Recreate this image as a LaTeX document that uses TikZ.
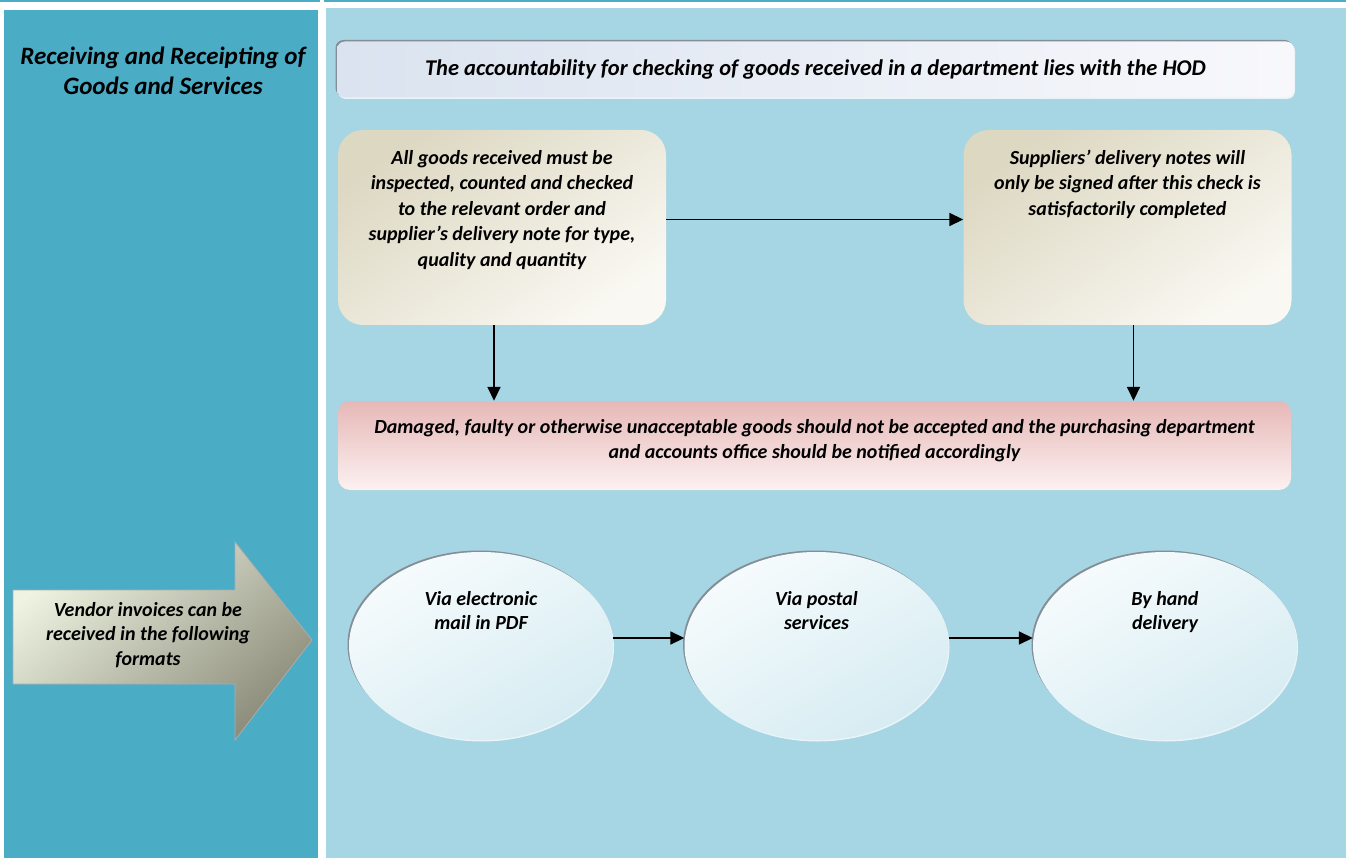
\documentclass[tikz,border=0pt]{standalone}
\usepackage{fontspec}
\setmainfont{Carlito}
\usetikzlibrary{shapes.geometric,arrows.meta,shadows}

\definecolor{panelteal}{HTML}{4BACC6}
\definecolor{panellight}{HTML}{A6D5E3}
\definecolor{hodleft}{HTML}{DAE3EF}
\definecolor{hodright}{HTML}{F8F8FC}
\definecolor{goodsdark}{HTML}{DDD8C2}
\definecolor{goodslight}{HTML}{F9F8F2}
\definecolor{notifytop}{HTML}{E6B8B7}
\definecolor{notifybottom}{HTML}{FCF1F1}
\definecolor{vendorlight}{HTML}{EEF3E2}
\definecolor{vendordark}{HTML}{8C8C7A}
\definecolor{viadark}{HTML}{D6ECF2}
\definecolor{vialight}{HTML}{F6FBFD}
\definecolor{rimgray}{HTML}{848E96}

\begin{document}
\begin{tikzpicture}[x=1pt,y=-1pt,
    txt/.style={font=\bfseries\itshape\fontsize{20}{24.5}\selectfont, align=center, inner sep=0},
    rim/.style={general shadow={shadow xshift=-1.5, shadow yshift=-1.5, fill=rimgray},
        general shadow={shadow xshift=1, shadow yshift=1.5, fill=white!75!panellight}},
    goodsbox/.style={rectangle, rounded corners=25, minimum width=328, minimum height=195,
        top color=goodsdark, bottom color=goodslight, shading angle=35},
    viaoval/.style={ellipse, minimum width=264, minimum height=188, inner sep=0, rim,
        top color=vialight, bottom color=viadark, shading angle=30},
    flow/.style={line width=1.7, -{Triangle[length=14pt,width=13pt]}}]

    \useasboundingbox (0,0) rectangle (1346,858);

    % Draw the two panels and the top rule
    \fill[panelteal] (0,0) rectangle (320,2);
    \fill[panelteal] (324,0) rectangle (1346,2);
    \fill[panelteal] (4,10) rectangle (318,858);
    \fill[panellight] (326,8) rectangle (1346,858);

    % Title of the left panel
    \node[font=\bfseries\itshape\fontsize{25}{29.5}\selectfont, align=center] (title) at (163,71)
        {Receiving and Receipting of\\Goods and Services};

    % Heading bar
    \node[rectangle, rounded corners=8, minimum width=957, minimum height=56, rim,
        left color=hodleft, right color=hodright,
        txt, font=\bfseries\itshape\fontsize{22.5}{27}\selectfont] (hod) at (815.5,69.5)
        {The accountability for checking of goods received in a department lies with the HOD};

    % The two checking boxes
    \node[goodsbox, label={[txt, font=\bfseries\itshape\fontsize{20}{25.5}\selectfont, anchor=north, yshift=-20]north:{All goods received must be\\
        inspected, counted and checked\\to the relevant order and\\supplier's delivery note for type,\\
        quality and quantity}}] (inspect) at (502,227.5) {};
    \node[goodsbox, label={[txt, font=\bfseries\itshape\fontsize{20}{25.5}\selectfont, anchor=north, yshift=-20]north:{Suppliers' delivery notes will\\
        only be signed after this check is\\satisfactorily completed}}] (signed) at (1127.5,227.5) {};

    % Damaged goods box
    \node[rectangle, rounded corners=12, minimum width=953, minimum height=89,
        top color=notifytop, bottom color=notifybottom,
        label={[txt, font=\bfseries\itshape\fontsize{20}{25.5}\selectfont, anchor=north, yshift=-18]north:{Damaged, faulty or otherwise unacceptable goods should not be accepted and the purchasing department\\
        and accounts office should be notified accordingly}}] (notify) at (814.5,445.5) {};

    % Arrows between the boxes
    \draw[flow] ([yshift=8]inspect.east) -- ([yshift=8]signed.west);
    \draw[flow] ([xshift=-8]inspect.south) -- ([xshift=-8]inspect.south |- notify.north);
    \draw[flow] ([xshift=6]signed.south) -- ([xshift=6]signed.south |- notify.north);

    % Big arrow on the left panel
    \shade[draw=gray!65, line width=0.8, top color=vendorlight, bottom color=vendordark, shading angle=40]
        (13,590) -- (235,590) -- (235,542) -- (312,640) -- (235,740) -- (235,684) -- (13,684) -- cycle;
    \node[txt] (vendor) at (148,635) {Vendor invoices can be\\received in the following\\formats};

    % The three ways of receiving invoices
    \node[viaoval, label={[txt, anchor=north, yshift=-39]north:{Via electronic\\mail in PDF}}] (email) at (481,646) {};
    \node[viaoval, label={[txt, anchor=north, yshift=-39]north:{Via postal\\services}}] (postal) at (816.5,646) {};
    \node[viaoval, label={[txt, anchor=north, yshift=-39]north:{By hand\\delivery}}] (hand) at (1165,646) {};

    \draw[flow] ([yshift=8]email.east) -- ([yshift=8]postal.west);
    \draw[flow] ([yshift=8]postal.east) -- ([yshift=8]hand.west);

\end{tikzpicture}
\end{document}
